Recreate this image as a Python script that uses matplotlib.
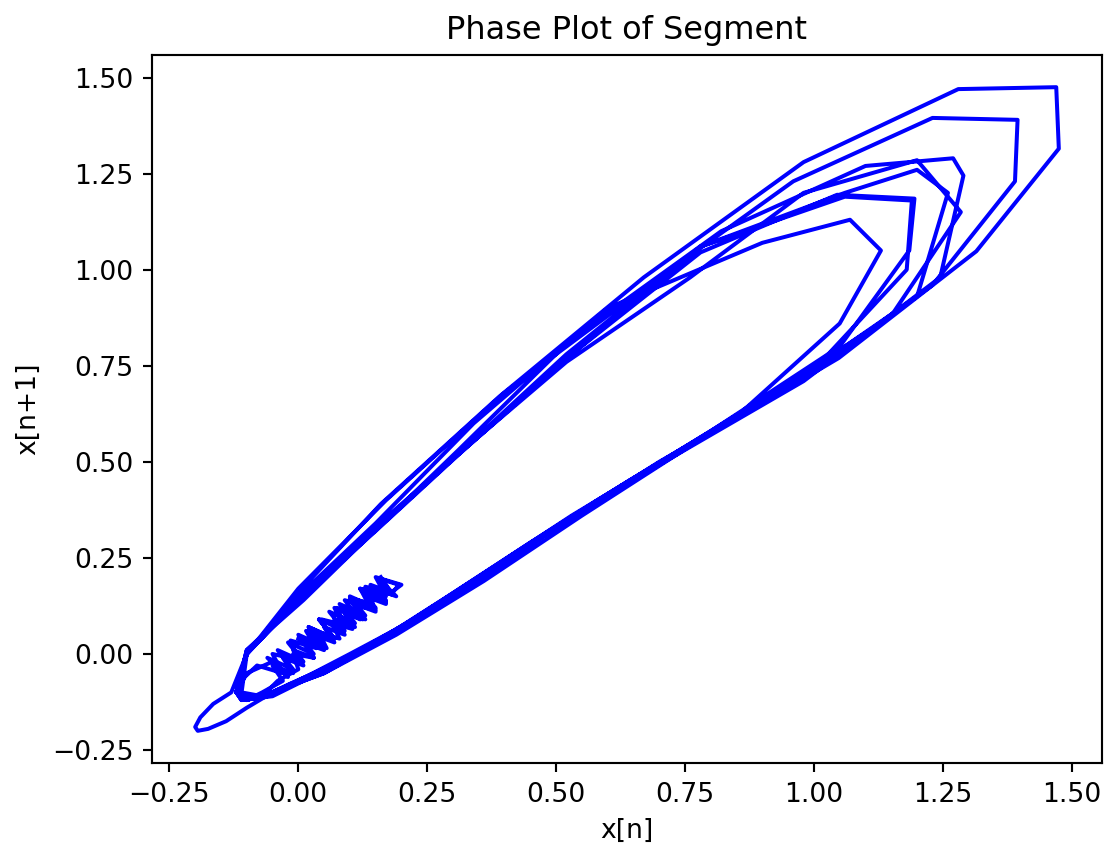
import numpy as np
import matplotlib
matplotlib.use("Agg")
import matplotlib.pyplot as plt

# segment values (x[n] -> x[n+1])
low_start = [0.00, 0.04, 0.02, 0.07, 0.04, 0.09, 0.07, 0.12, 0.09, 0.14, 0.12, 0.17,
             0.15, 0.20, 0.18, 0.16, 0.19, 0.15, 0.17, 0.13, 0.15, 0.11, 0.13, 0.09,
             0.11, 0.07, 0.09, 0.05, 0.07, 0.03, 0.05, 0.01, 0.03, -0.01, 0.01, -0.03,
             -0.01, -0.05, -0.03, -0.07, -0.10, -0.12]
cycle_f = [-0.10, 0.00, 0.15, 0.34, 0.60, 0.90, 1.07, 1.13, 1.05, 0.86, 0.63, 0.44,
           0.28, 0.14, 0.02, -0.06, -0.11, -0.12]
cycle_e = [-0.10, 0.01, 0.15, 0.32, 0.53, 0.78, 1.045, 1.195, 1.185, 1.05, 0.80, 0.58,
           0.40, 0.24, 0.10, 0.00, -0.07, -0.11, -0.12]
cycle_c = [-0.10, 0.00, 0.14, 0.31, 0.53, 0.82, 1.10, 1.27, 1.29, 1.245, 0.98, 0.71,
           0.50, 0.33, 0.17, 0.04, -0.05, -0.10, -0.12]
low_mid = [-0.08, -0.03, -0.05, 0.00, -0.015, 0.035, 0.015, 0.06, 0.045, 0.09, 0.075,
           0.12, 0.10, 0.145, 0.13, 0.175, 0.16, 0.195, 0.18, 0.155, 0.17, 0.135,
           0.15, 0.115, 0.125, 0.09, 0.105, 0.065, 0.08, 0.04, 0.055, 0.015, 0.03,
           -0.01, 0.00, -0.04, -0.07, -0.11]
cycle_a = [-0.10, 0.00, 0.16, 0.39, 0.67, 0.98, 1.28, 1.47, 1.475, 1.315, 1.048, 0.77,
           0.55, 0.36, 0.19, 0.05, -0.05, -0.10, -0.14, -0.175, -0.195, -0.20, -0.19,
           -0.165, -0.13]
cycle_b = [-0.10, 0.00, 0.17, 0.40, 0.68, 0.96, 1.23, 1.395, 1.39, 1.23, 0.96, 0.70,
           0.50, 0.33, 0.18, 0.05, -0.05, -0.10, -0.12]
cycle_d = [-0.10, 0.00, 0.14, 0.31, 0.52, 0.78, 1.06, 1.20, 1.26, 1.20, 0.93, 0.68,
           0.48, 0.31, 0.16, 0.04, -0.05, -0.11, -0.12]
cycle_c2 = [-0.10, 0.01, 0.14, 0.31, 0.52, 0.76, 0.98, 1.20, 1.285, 1.15, 0.88, 0.64,
            0.45, 0.29, 0.15, 0.03, -0.05, -0.10, -0.12]
cycle_g = [-0.10, 0.00, 0.14, 0.32, 0.53, 0.78, 1.06, 1.19, 1.18, 1.00, 0.74, 0.53,
           0.36, 0.21, 0.08, -0.02, -0.08, -0.12]
low_end = [-0.10, -0.05, -0.02, -0.06, -0.01, -0.04, 0.01, -0.02, 0.03, 0.00, 0.05,
           0.02, 0.07, 0.04, 0.09, 0.06, 0.11, 0.08, 0.13, 0.10, 0.15, 0.12, 0.17,
           0.14, 0.18, 0.16, 0.20]

x = np.array(low_start + cycle_f + cycle_e + cycle_c + low_mid + cycle_a + cycle_b +
             cycle_d + cycle_c2 + cycle_g + low_end)

fig = plt.figure(figsize=(1104/192, 844/192), dpi=192)
ax = fig.add_axes([152/1104, 1-763/844, 950/1104, 708/844])

ax.plot(x[:-1], x[1:], color='b')
ax.set_title("Phase Plot of Segment")
ax.set_xlabel("x[n]")
ax.set_ylabel("x[n+1]")

fig.savefig("out.png", dpi=192)
